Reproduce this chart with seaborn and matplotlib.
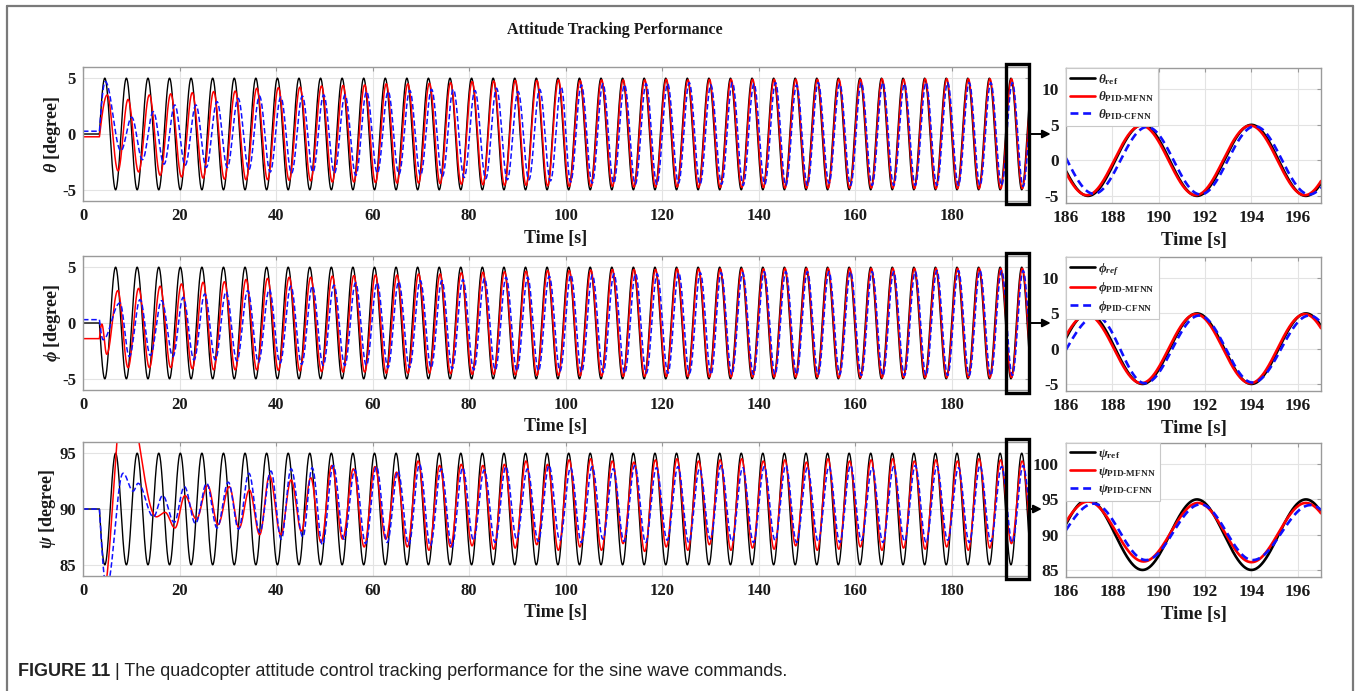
import numpy as np
import pandas as pd
import matplotlib
matplotlib.use("Agg")
import matplotlib.pyplot as plt
import matplotlib.transforms as mtransforms
from matplotlib.lines import Line2D
from matplotlib.patches import Rectangle
import seaborn as sns

sns.set_theme(style="white")
plt.rcParams["font.family"] = ["Liberation Serif", "DejaVu Serif"]
plt.rcParams["mathtext.fontset"] = "custom"
plt.rcParams["mathtext.rm"] = "Liberation Serif:bold"
plt.rcParams["mathtext.it"] = "Liberation Serif:italic:bold"
plt.rcParams["mathtext.bf"] = "Liberation Serif:bold"
plt.rcParams["axes.unicode_minus"] = False

# ---------------- data ----------------
T_START = 3.4          # s, start of the sine command
PERIOD = 4.47          # s, command period in the main panels
T_END = 196.0
N_EXT = 87             # number of command extrema drawn (k = 0..86)
REF_AMP = 5.0

# theta panel
theta_center = 0.0
theta_sign = 1.0
theta_init = {"ref": 0.0, "mfnn": -0.25, "cfnn": 0.25}
theta_mfnn_ext = [3.5, -3.3, 3.1, -3.4, 3.5, -3.7, 3.6, -3.85, 3.7, -3.95,
                  3.8, -4.05, 3.85, -4.1, 4.1, -4.1, 4.15, -4.15, 4.2, -4.2,
                  4.3, -4.3, 4.35, -4.3, 4.4, -4.35, 4.5, -4.4, 4.5, -4.4,
                  4.55, -4.45, 4.6, -4.5, 4.7, -4.55, 4.75, -4.6, 4.8, -4.6,
                  4.8, -4.65, 4.85, -4.7, 4.8, -4.7, 4.85, -4.7, 4.85, -4.75,
                  4.85, -4.75, 4.9, -4.75, 4.85, -4.8, 4.9, -4.8, 4.9, -4.8,
                  4.9, -4.8, 4.9, -4.85, 4.9, -4.85, 4.9, -4.85, 4.9, -4.85,
                  4.9, -4.85, 4.95, -4.85, 4.9, -4.9, 4.95, -4.9, 4.95, -4.9,
                  4.95, -4.9, 4.95, -4.9, 4.95, -4.9, 4.95]
theta_mfnn_lag = [0.5, 0.5, 0.35, 0.3, 0.3, 0.3, 0.25, 0.25, 0.25, 0.25] + [0.2] * 22 + [0.12] * 55
theta_cfnn_ext = [4.7, -1.5, 1.5, -2.3, 2.0, -2.7, 2.6, -2.8, 2.6, -3.0,
                  2.9, -3.0, 3.2, -3.2, 3.4, -3.4, 3.3, -3.5, 3.4, -3.4,
                  3.5, -3.5, 3.5, -3.7, 3.8, -3.5, 3.8, -3.6, 3.9, -3.7,
                  4.0, -3.8, 4.0, -3.9, 3.9, -4.0, 4.1, -4.1, 3.8, -4.1,
                  4.0, -4.2, 4.2, -4.3, 4.4, -4.4, 4.5, -4.4, 4.4, -4.5,
                  4.5, -4.5, 4.5, -4.4, 4.6, -4.5, 4.4, -4.5, 4.6, -4.6,
                  4.5, -4.5, 4.6, -4.6, 4.4, -4.6, 4.6, -4.4, 4.5, -4.6,
                  4.6, -4.6, 4.6, -4.6, 4.5, -4.6, 4.6, -4.6, 4.6, -4.6,
                  4.6, -4.6, 4.6, -4.6, 4.6, -4.7, 4.5]
theta_cfnn_lag = ([0.1, 1.1, 1.1, 1.1, 1.1, 1.1, 1.1, 1.0, 1.0, 0.9, 0.9, 0.8, 0.8, 0.8, 0.75, 0.75,
                   0.7, 0.7, 0.7, 0.65, 0.65, 0.65, 0.6, 0.6, 0.6, 0.6, 0.6, 0.6, 0.6, 0.6, 0.65, 0.65]
                  + [0.7] * 11 + [0.4] * 20 + [0.3] * 24)

# phi panel
phi_center = 0.0
phi_sign = -1.0
phi_init = {"ref": 0.0, "mfnn": -1.4, "cfnn": 0.3}
phi_mfnn_pre_t = [3.9]
phi_mfnn_pre_v = [-0.1]
phi_mfnn_ext = [-2.8, 2.9, -4.0, 3.1, -4.0, 3.3, -4.0, 3.5, -4.1, 3.65,
                -4.2, 3.7, -4.2, 3.9, -4.2, 4.0, -4.25, 4.1, -4.3, 4.1,
                -4.35, 4.2, -4.4, 4.25, -4.4, 4.3, -4.5, 4.3, -4.5, 4.4,
                -4.5, 4.4, -4.55, 4.5, -4.6, 4.55, -4.6, 4.6, -4.65, 4.65,
                -4.7, 4.7, -4.7, 4.7, -4.75, 4.75, -4.75, 4.8, -4.8, 4.8,
                -4.8, 4.8, -4.8, 4.85, -4.8, 4.85, -4.85, 4.85, -4.85, 4.85,
                -4.85, 4.85, -4.85, 4.9, -4.85, 4.9, -4.85, 4.9, -4.9, 4.9,
                -4.9, 4.9, -4.9, 4.9, -4.9, 4.9, -4.9, 4.9, -4.9, 4.9,
                -4.9, 4.9, -4.9, 4.9, -4.9, 4.9, -4.9]
phi_mfnn_lag = [0.4, 0.45, 0.35, 0.3, 0.3, 0.3, 0.25, 0.25, 0.25, 0.25] + [0.2] * 22 + [0.12] * 55
phi_cfnn_ext = [-1.5, 1.8, -3.0, 2.1, -2.9, 2.0, -3.0, 2.3, -3.3, 2.6,
                -3.3, 2.8, -3.4, 2.9, -3.5, 3.0, -3.6, 3.3, -3.7, 3.3,
                -3.8, 3.4, -3.8, 3.6, -3.8, 3.6, -4.0, 3.7, -4.0, 3.8,
                -4.0, 3.8, -4.1, 3.9, -4.2, 4.0, -4.2, 4.1, -4.3, 4.1,
                -4.3, 4.2, -4.3, 4.3, -4.4, 4.3, -4.4, 4.4, -4.5, 4.4,
                -4.5, 4.4, -4.5, 4.5, -4.5, 4.5, -4.6, 4.5, -4.6, 4.5,
                -4.6, 4.6, -4.6, 4.6, -4.6, 4.6, -4.6, 4.6, -4.6, 4.6,
                -4.7, 4.6, -4.7, 4.6, -4.7, 4.6, -4.7, 4.7, -4.7, 4.7,
                -4.7, 4.7, -4.7, 4.7, -4.7, 4.7, -4.7]
phi_cfnn_lag = [-0.35, 0.9, 0.6, 0.6, 0.5, 0.6, 0.7, 0.6, 0.6, 0.6] + [0.55] * 22 + [0.45] * 25 + [0.3] * 30

# psi panel
psi_center = 90.0
psi_sign = -1.0
psi_init = {"ref": 90.0, "mfnn": 82.0, "cfnn": 90.0}
psi_mfnn_pre_t = [4.0, 8.6, 15.2, 17.0, 19.05]
psi_mfnn_pre_v = [82.0, 101.0, 89.3, 89.7, 88.3]
psi_mfnn_ext = [91.2, 89.1, 92.1, 88.6, 92.0, 88.3, 91.7, 87.7, 93.0, 87.7,
                92.6, 88.0, 92.8, 87.0, 93.9, 87.3, 93.6, 86.6, 93.8, 87.3,
                93.3, 86.6, 94.3, 86.3, 93.9, 86.6, 94.0, 86.7, 93.9, 86.4,
                94.0, 86.5, 94.3, 86.8, 94.0, 86.3, 94.4, 86.6, 94.5, 86.3,
                94.3, 86.9, 94.2, 86.2, 94.4, 86.6, 94.5, 86.3, 94.3, 86.8,
                94.4, 86.3, 94.5, 86.5, 94.3, 86.4, 94.4, 86.7, 94.2, 86.3,
                94.5, 86.4, 94.3, 86.6, 94.4, 86.3, 94.5, 86.5, 94.3, 86.4,
                94.4, 86.6, 94.3, 86.3, 94.5, 86.5, 94.4, 86.9, 94.3, 86.8]
psi_mfnn_lag = [0.95, 1.1, 1.2, 1.1, 1.2, 1.0, 0.9, 0.8, 0.6, 0.7, 0.6, 0.5, 0.2] + [0.1] * 67
psi_cfnn_pre_t = [4.9, 8.3, 10.4, 11.4, 14.6, 16.5, 18.9]
psi_cfnn_pre_v = [83.0, 93.2, 91.6, 92.3, 89.3, 91.2, 88.8]
psi_cfnn_ext = [92.0, 88.7, 92.3, 88.3, 92.4, 88.2, 93.2, 87.9, 93.4, 87.3,
                93.6, 87.5, 93.7, 86.8, 93.9, 87.3, 93.5, 86.9, 93.8, 87.0,
                93.4, 86.8, 94.0, 86.7, 93.6, 86.6, 93.7, 87.2, 93.5, 87.0,
                93.8, 87.3, 93.6, 87.1, 93.9, 87.2, 93.7, 87.0, 93.8, 87.3,
                93.6, 87.1, 93.9, 87.0, 93.7, 87.2, 93.8, 87.0, 93.6, 87.3,
                93.9, 87.1, 93.7, 87.0, 93.8, 87.2, 93.9, 87.0, 93.7, 87.1,
                93.8, 87.0, 93.9, 87.2, 93.7, 87.0, 93.8, 87.1, 93.9, 87.0,
                93.8, 87.2, 93.7, 87.0, 93.9, 87.1, 93.8, 87.0, 93.9, 87.2]
psi_cfnn_lag = [0.85, 0.9, 1.0, 0.9, 1.0, 0.9, 0.8, 0.8, 0.9, 0.8, 0.6, 0.8, 0.5, 0.4] + [0.4] * 26 + [0.3] * 40

# zoomed windows (186-197 s): extremum times and values
zoom_theta = {
    "ref": ([184.6, 186.95, 189.3, 191.65, 194.0, 196.35, 198.7], [5, -5, 5, -5, 5, -5, 5]),
    "mfnn": ([184.55, 186.9, 189.25, 191.6, 193.95, 196.3, 198.65], [4.9, -4.9, 4.9, -4.9, 4.9, -4.9, 4.9]),
    "cfnn": ([184.9, 187.2, 189.5, 191.8, 194.15, 196.5, 198.85], [4.7, -4.7, 4.7, -4.8, 4.8, -4.8, 4.8]),
}
zoom_phi = {
    "ref": ([184.6, 186.95, 189.3, 191.65, 194.0, 196.35, 198.7], [-5, 5, -5, 5, -5, 5, -5]),
    "mfnn": ([184.5, 186.9, 189.25, 191.6, 193.95, 196.3, 198.65], [-4.8, 4.8, -4.9, 4.9, -4.9, 4.9, -4.9]),
    "cfnn": ([184.75, 187.3, 189.4, 191.75, 194.05, 196.5, 198.85], [-4.6, 4.6, -4.9, 4.7, -4.8, 4.7, -4.8]),
}
zoom_psi = {
    "ref": ([184.6, 186.95, 189.3, 191.65, 194.0, 196.35, 198.7], [85, 95, 85, 95, 85, 95, 85]),
    "mfnn": ([184.55, 186.95, 189.35, 191.7, 194.0, 196.35, 198.7], [86.2, 94.7, 86.2, 94.5, 86.1, 94.5, 86.2]),
    "cfnn": ([184.7, 187.2, 189.45, 191.8, 194.05, 196.55, 198.9], [86.4, 94.4, 86.4, 94.3, 86.4, 94.2, 86.4]),
}

# ---------------- helpers ----------------
def curve(knot_t, knot_v, t_grid, t0=None, init=None):
    kt = list(knot_t)
    kv = list(knot_v)
    first_quarter = t0 is not None
    if first_quarter:
        kt = [t0] + kt
        kv = [init] + kv
    kt = np.asarray(kt, float)
    kv = np.asarray(kv, float)
    y = np.full(t_grid.shape, kv[0], float)
    for i in range(len(kt) - 1):
        ta, tb, va, vb = kt[i], kt[i + 1], kv[i], kv[i + 1]
        m = (t_grid >= ta) & (t_grid <= tb)
        s = (t_grid[m] - ta) / (tb - ta)
        if i == 0 and first_quarter:
            y[m] = va + (vb - va) * np.sin(0.5 * np.pi * s)
        else:
            y[m] = 0.5 * (va + vb) + 0.5 * (va - vb) * np.cos(np.pi * s)
    y[t_grid > kt[-1]] = kv[-1]
    return y


ref_times = T_START + PERIOD / 4 + np.arange(N_EXT) * PERIOD / 2
ref_signs = np.where(np.arange(N_EXT) % 2 == 0, 1.0, -1.0)


def response_knots(ext, lag, pre_t=(), pre_v=()):
    k0 = N_EXT - len(ext)
    t = list(pre_t) + list(ref_times[k0:] + np.asarray(lag))
    v = list(pre_v) + list(ext)
    return t, v


t_main = np.arange(0.0, T_END + 0.001, 0.02)
t_zoom = np.arange(186.0, 197.0 + 0.001, 0.01)

panels = []
for center, sign, init, m_ext, m_lag, m_pre, c_ext, c_lag, c_pre, zoom in [
    (theta_center, theta_sign, theta_init, theta_mfnn_ext, theta_mfnn_lag, ((), ()),
     theta_cfnn_ext, theta_cfnn_lag, ((), ()), zoom_theta),
    (phi_center, phi_sign, phi_init, phi_mfnn_ext, phi_mfnn_lag, (phi_mfnn_pre_t, phi_mfnn_pre_v),
     phi_cfnn_ext, phi_cfnn_lag, ((), ()), zoom_phi),
    (psi_center, psi_sign, psi_init, psi_mfnn_ext, psi_mfnn_lag, (psi_mfnn_pre_t, psi_mfnn_pre_v),
     psi_cfnn_ext, psi_cfnn_lag, (psi_cfnn_pre_t, psi_cfnn_pre_v), zoom_psi),
]:
    y_ref = curve(ref_times, center + sign * REF_AMP * ref_signs, t_main, T_START, init["ref"])
    mt, mv = response_knots(m_ext, m_lag, *m_pre)
    y_m = curve(mt, mv, t_main, T_START, init["mfnn"])
    ct, cv = response_knots(c_ext, c_lag, *c_pre)
    y_c = curve(ct, cv, t_main, T_START, init["cfnn"])
    z = {k: curve(zoom[k][0], zoom[k][1], t_zoom) for k in ("ref", "mfnn", "cfnn")}
    panels.append((y_ref, y_m, y_c, z))

# ---------------- figure ----------------
W, H = 1360, 691
fig = plt.figure(figsize=(W / 100, H / 100), dpi=100)


def rect(l, t, r, b):
    return [l / W, 1 - b / H, (r - l) / W, (b - t) / H]


main_pos = [rect(83, 67, 1029, 201), rect(83, 256, 1029, 390), rect(83, 442, 1029, 576)]
zoom_pos = [rect(1066, 68, 1321, 203), rect(1066, 257, 1321, 391), rect(1066, 443, 1321, 577)]
ylims_main = [(-6, 6), (-6, 6), (84, 96)]
yticks_main = [[-5, 0, 5], [-5, 0, 5], [85, 90, 95]]
ylims_zoom = [(-6, 13), (-6, 13), (84, 103)]
yticks_zoom = [[-5, 0, 5, 10], [-5, 0, 5, 10], [85, 90, 95, 100]]
sym = [r"\theta", r"\phi", r"\psi"]
sub_ref = [r"\text{ref}", r"\mathit{ref}", r"\text{ref}"]
arrow_tip = [-0.06, -0.06, -0.095]
ylabel_x = [-0.021, -0.021, -0.026]

BLUE = "#1010ff"
RED = "#ff0000"
SPINE = "#9a9a9a"
GRID = "#e3e3e3"
TXT = "#1a1a1a"


def style_axis(ax, fs):
    for sp in ax.spines.values():
        sp.set_color(SPINE)
        sp.set_linewidth(1.0)
        sp.set_visible(True)
    ax.grid(True, color=GRID, lw=0.8)
    ax.set_axisbelow(True)
    ax.tick_params(direction="in", length=3, width=0.8, color=SPINE, top=True, right=True,
                   labelsize=fs, labelcolor=TXT, pad=5)
    for lab in ax.get_xticklabels() + ax.get_yticklabels():
        lab.set_fontweight("bold")


for i in range(3):
    y_ref, y_m, y_c, z = panels[i]
    ax = fig.add_axes(main_pos[i])
    sns.lineplot(x=t_main, y=y_ref, color="black", lw=1.0, ax=ax, estimator=None, sort=False)
    sns.lineplot(x=t_main, y=y_m, color=RED, lw=1.1, ax=ax, estimator=None, sort=False)
    sns.lineplot(x=t_main, y=y_c, color=BLUE, lw=1.1, linestyle=(0, (3.6, 1.8)), ax=ax,
                 estimator=None, sort=False)
    ax.set_xlim(0, T_END)
    ax.set_ylim(*ylims_main[i])
    ax.set_xticks(np.arange(0, 181, 20))
    ax.set_yticks(yticks_main[i])
    style_axis(ax, 12)
    ax.set_xlabel("Time [s]", fontsize=13, fontweight="bold", color=TXT, labelpad=4)
    ax.set_ylabel(rf"${sym[i]}$ [degree]", fontsize=13, fontweight="bold", color=TXT)
    ax.yaxis.set_label_coords(ylabel_x[i], 0.5)

    # highlight box
    tr = mtransforms.blended_transform_factory(ax.transData, ax.transAxes)
    ax.add_patch(Rectangle((191.3, -0.02), 4.8, 1.04, transform=tr, fill=False, lw=2.4,
                           ec="black", clip_on=False, zorder=10))

    zax = fig.add_axes(zoom_pos[i])
    sns.lineplot(x=t_zoom, y=z["ref"], color="black", lw=1.9, ax=zax, estimator=None, sort=False,
                 label=rf"${sym[i]}_{{{sub_ref[i]}}}$")
    sns.lineplot(x=t_zoom, y=z["mfnn"], color=RED, lw=1.9, ax=zax, estimator=None, sort=False,
                 label=rf"${sym[i]}_{{\text{{PID-MFNN}}}}$")
    sns.lineplot(x=t_zoom, y=z["cfnn"], color=BLUE, lw=1.9, linestyle=(0, (3.0, 1.8)), ax=zax,
                 estimator=None, sort=False, label=rf"${sym[i]}_{{\text{{PID-CFNN}}}}$")
    zax.set_xlim(186, 197)
    zax.set_ylim(*ylims_zoom[i])
    zax.set_xticks(np.arange(186, 197, 2))
    zax.set_yticks(yticks_zoom[i])
    style_axis(zax, 12.5)
    zax.set_xlabel("Time [s]", fontsize=13.5, fontweight="bold", color=TXT, labelpad=4)
    zax.set_ylabel("")
    leg = zax.legend(loc="upper left", bbox_to_anchor=(0, 1), borderaxespad=0, fontsize=9.5,
                     frameon=True, fancybox=False, framealpha=1, edgecolor="#c8c8c8",
                     handlelength=1.9, handletextpad=0.25, labelspacing=0.2, borderpad=0.3)
    leg.get_frame().set_linewidth(0.8)

    # arrow from the box to the zoomed panel
    yc = ylims_main[i][0] + (ylims_main[i][1] - ylims_main[i][0]) / 2
    ax.annotate("", xy=(arrow_tip[i], yc), xycoords=(zax.transAxes, ax.transData),
                xytext=(196.1, yc), textcoords="data",
                arrowprops=dict(arrowstyle="-|>", color="black", lw=1.4, mutation_scale=12,
                                shrinkA=0, shrinkB=0), annotation_clip=False)

fig.text(615 / W, 1 - 30 / H, "Attitude Tracking Performance", ha="center", va="center",
         fontsize=11.5, fontweight="bold", color=TXT)

# outer frame of the figure panel
frame_c = "#7a7a7a"
fig.add_artist(Line2D([7 / W, 7 / W], [0, 1 - 6 / H], transform=fig.transFigure, color=frame_c, lw=1.6))
fig.add_artist(Line2D([1353 / W, 1353 / W], [0, 1 - 6 / H], transform=fig.transFigure, color=frame_c, lw=1.6))
fig.add_artist(Line2D([7 / W, 1353 / W], [1 - 6 / H, 1 - 6 / H], transform=fig.transFigure, color=frame_c, lw=1.6))

cap_font = ["Liberation Sans Narrow", "Liberation Sans", "DejaVu Sans"]
t1 = fig.text(18 / W, 1 - 671 / H, "FIGURE 11", ha="left", va="center", fontsize=13,
              fontweight="bold", family=cap_font, color="#222222")
fig.axes[0].annotate(" | The quadcopter attitude control tracking performance for the sine wave commands.",
                     xy=(1, 0), xycoords=t1, ha="left", va="bottom", fontsize=13,
                     family=cap_font, color="#222222", annotation_clip=False)

fig.savefig("out.png", dpi=100)
